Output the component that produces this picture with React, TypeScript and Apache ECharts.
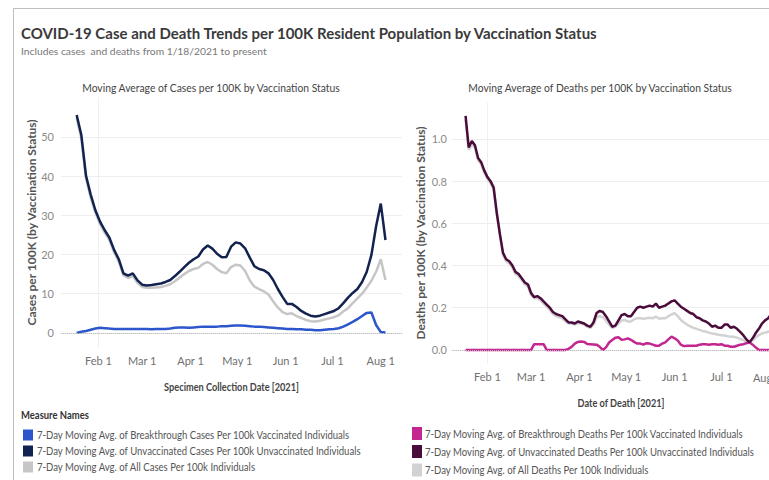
import React, { useEffect, useRef } from "react";
import * as echarts from "echarts";

// ---------- DATA ----------
const FONT = "Lato, 'Liberation Sans', sans-serif";

// x positions are days counted from Feb 1, 2021
const TICK_DAYS = [0, 28, 59, 89, 120, 150, 181];
const TICK_LABELS = ["Feb 1", "Mar 1", "Apr 1", "May 1", "Jun 1", "Jul 1", "Aug 1"];

// Cases: from Jan 18, 2021 every 3 days
const CASE_START_OFFSET = -14;
const CASE_STEP = 3;
const breakthroughCases = [
  0.0, 0.3, 0.5, 0.8, 1.1, 1.3, 1.2, 1.1, 1.0, 1.0,
  1.0, 1.0, 1.0, 1.0, 1.0, 1.0, 0.9, 1.0, 1.0, 1.0,
  1.1, 1.3, 1.4, 1.4, 1.3, 1.4, 1.5, 1.6, 1.6, 1.6,
  1.6, 1.7, 1.7, 1.8, 1.9, 1.9, 1.8, 1.7, 1.6, 1.6,
  1.5, 1.4, 1.3, 1.2, 1.1, 1.0, 1.0, 0.9, 0.9, 0.8,
  0.8, 0.7, 0.7, 0.8, 0.9, 1.0, 1.2, 1.6, 2.2, 2.8,
  3.5, 4.3, 5.1, 5.2, 2.0, 0.2, 0.1,
];
const unvaxCases = [
  55.6, 50.5, 40.1, 35.3, 31.3, 28.4, 26.2, 24.3, 21.2, 18.8,
  15.2, 14.6, 15.2, 13.4, 12.3, 12.1, 12.2, 12.4, 12.6, 13.0,
  13.5, 14.5, 15.6, 16.8, 17.9, 18.8, 19.5, 21.3, 22.3, 21.5,
  20.2, 19.3, 19.4, 22.0, 23.1, 22.8, 21.6, 19.2, 17.0, 16.3,
  16.0, 15.2, 13.5, 11.2, 9.2, 7.4, 7.4, 6.6, 5.6, 4.9,
  4.4, 4.2, 4.4, 4.8, 5.2, 5.6, 6.3, 7.6, 9.0, 10.2,
  11.2, 13.0, 15.6, 19.9, 27.2, 33.0, 23.7,
];
const allCases = [
  54.8, 49.6, 39.4, 34.6, 30.7, 27.8, 25.6, 23.7, 20.6, 18.2,
  14.7, 14.0, 14.5, 12.8, 11.7, 11.5, 11.5, 11.6, 11.7, 12.0,
  12.4, 13.2, 14.1, 15.0, 15.8, 16.3, 16.6, 17.6, 18.1, 17.4,
  16.3, 15.5, 15.2, 16.8, 17.4, 17.2, 15.8, 13.4, 11.8, 11.2,
  10.6, 9.8, 8.0, 6.5, 5.3, 4.8, 5.0, 4.3, 3.8, 3.3,
  3.0, 2.9, 3.1, 3.4, 3.7, 4.0, 4.5, 5.5, 6.3, 7.6,
  8.8, 10.0, 11.6, 13.3, 15.6, 18.8, 13.5,
];

// Deaths: from Jan 18, 2021 every 2 days
const DEATH_START_OFFSET = -14;
const DEATH_STEP = 2;
const breakthroughDeaths = [
  0, 0, 0, 0, 0, 0, 0, 0, 0, 0,
  0, 0, 0, 0, 0, 0, 0, 0, 0, 0,
  0, 0, 0.027, 0.027, 0.027, 0.027, 0, 0, 0, 0,
  0, 0, 0, 0.005, 0.015, 0.03, 0.038, 0.04, 0.038, 0.028,
  0.027, 0.026, 0.025, 0.015, 0, 0.012, 0.035, 0.047, 0.058, 0.06,
  0.048, 0.05, 0.055, 0.048, 0.038, 0.03, 0.03, 0.025, 0.032, 0.03,
  0.025, 0.02, 0.02, 0.03, 0.036, 0.05, 0.063, 0.055, 0.045, 0.025,
  0.018, 0.02, 0.02, 0.02, 0.02, 0.025, 0.027, 0.027, 0.025, 0.027,
  0.027, 0.025, 0.027, 0.02, 0.02, 0.015, 0.015, 0.02, 0.025, 0.027,
  0.032, 0.036, 0.025, 0.012, 0, 0, 0, 0, 0, 0,
];
const unvaxDeaths = [
  1.11, 0.96, 0.99, 0.97, 0.91, 0.89, 0.85, 0.82, 0.8, 0.77,
  0.65, 0.55, 0.46, 0.43, 0.42, 0.4, 0.37, 0.36, 0.34, 0.32,
  0.31, 0.27, 0.25, 0.255, 0.245, 0.23, 0.215, 0.2, 0.18, 0.17,
  0.165, 0.16, 0.145, 0.13, 0.13, 0.125, 0.135, 0.13, 0.125, 0.115,
  0.11, 0.13, 0.175, 0.185, 0.18, 0.16, 0.135, 0.11, 0.115, 0.14,
  0.165, 0.17, 0.16, 0.16, 0.18, 0.2, 0.205, 0.2, 0.205, 0.21,
  0.205, 0.22, 0.2, 0.205, 0.21, 0.22, 0.23, 0.235, 0.22, 0.205,
  0.195, 0.185, 0.175, 0.17, 0.155, 0.15, 0.14, 0.135, 0.125, 0.11,
  0.115, 0.105, 0.105, 0.12, 0.12, 0.105, 0.11, 0.1, 0.085, 0.07,
  0.05, 0.036, 0.055, 0.08, 0.1, 0.125, 0.14, 0.15, 0.17, 0.18,
];
const allDeaths = [
  1.09, 0.95, 0.97, 0.96, 0.9, 0.88, 0.84, 0.81, 0.79, 0.76,
  0.64, 0.54, 0.45, 0.42, 0.41, 0.39, 0.36, 0.35, 0.33, 0.31,
  0.3, 0.26, 0.245, 0.245, 0.235, 0.22, 0.205, 0.19, 0.17, 0.16,
  0.155, 0.15, 0.135, 0.125, 0.125, 0.12, 0.128, 0.125, 0.12, 0.11,
  0.105, 0.12, 0.155, 0.16, 0.155, 0.14, 0.12, 0.105, 0.11, 0.125,
  0.14, 0.142, 0.135, 0.135, 0.145, 0.15, 0.15, 0.148, 0.15, 0.152,
  0.15, 0.158, 0.148, 0.15, 0.15, 0.16, 0.168, 0.174, 0.16, 0.142,
  0.13, 0.12, 0.112, 0.105, 0.1, 0.095, 0.09, 0.087, 0.082, 0.078,
  0.075, 0.072, 0.07, 0.068, 0.065, 0.063, 0.062, 0.058, 0.052, 0.047,
  0.04, 0.036, 0.045, 0.06, 0.07, 0.078, 0.082, 0.086, 0.09, 0.095,
];

const caseYTicks = [0, 10, 20, 30, 40, 50];
const deathYTicks = [0, 0.2, 0.4, 0.6, 0.8, 1.0];

const SERIES_NAMES = {
  bCases: "7-Day Moving Avg. of Breakthrough Cases Per 100k Vaccinated Individuals",
  uCases: "7-Day Moving Avg. of Unvaccinated Cases Per 100k Unvaccinated Individuals",
  aCases: "7-Day Moving Avg. of All Cases Per 100k Individuals",
  bDeaths: "7-Day Moving Avg. of Breakthrough Deaths Per 100k Vaccinated Individuals",
  uDeaths: "7-Day Moving Avg. of Unvaccinated Deaths Per 100k Unvaccinated Individuals",
  aDeaths: "7-Day Moving Avg. of All Deaths Per 100k Individuals",
};

const COLORS = {
  bCases: "#2c56cc",
  uCases: "#13234f",
  aCases: "#c6c6c6",
  bDeaths: "#c3268f",
  uDeaths: "#4a0c3b",
  aDeaths: "#d2d2d2",
};

const CASE_LEGEND = ["bCases", "uCases", "aCases"];
const DEATH_LEGEND = ["bDeaths", "uDeaths", "aDeaths"];

// ---------- HELPERS ----------
const toSeries = (vals: number[], start: number, step: number) =>
  vals.map((v, i) => [start + i * step, v]);
const fmtDay = (v: number) => {
  const i = TICK_DAYS.indexOf(Math.round(v));
  return i >= 0 ? TICK_LABELS[i] : "";
};

export default function App() {
  const ref = useRef<HTMLDivElement>(null);
  useEffect(() => {
    if (!ref.current) return;
    const chart = echarts.init(ref.current, undefined, { renderer: "svg" });

    const xAxisBase = (gridIndex: number, min: number, max: number) => ({
      type: "value",
      gridIndex,
      min,
      max,
      axisLine: { show: true, lineStyle: { color: "#e3e3e3" } },
      axisTick: { show: false, customValues: TICK_DAYS },
      splitLine: { show: false },
      axisLabel: {
        customValues: TICK_DAYS,
        formatter: fmtDay,
        color: "#707070",
        fontSize: 11,
        margin: 8,
        fontFamily: FONT,
      },
    });

    const yAxisBase = (name: string, gridIndex: number, ticks: number[], min: number, max: number, nameGap: number, fmt: (v: number) => string, margin: number) => ({
      type: "value",
      gridIndex,
      min,
      max,
      name,
      nameLocation: "middle",
      nameGap,
      nameTextStyle: { fontSize: 12, color: "#555", fontWeight: "bold", fontFamily: FONT },
      axisLine: { show: true, lineStyle: { color: "#f0f0f0" } },
      axisTick: { show: false, customValues: ticks },
      splitLine: { show: true, lineStyle: { color: "#eeeeee", width: 1 } },
      axisLabel: { customValues: ticks, formatter: fmt, color: "#8a8a8a", fontSize: 11, margin, fontFamily: FONT },
    });

    const line = (name: string, color: string, data: any[], idx: number, z: number, zero?: boolean) => ({
      type: "line",
      name,
      xAxisIndex: idx,
      yAxisIndex: idx,
      data,
      showSymbol: false,
      symbol: "none",
      z,
      lineStyle: { color, width: 2.5 },
      itemStyle: { color },
      markLine: zero
        ? {
            silent: true,
            symbol: "none",
            label: { show: false },
            lineStyle: { color: "#bdbdbd", type: "dotted", width: 1 },
            data: [{ yAxis: 0 }],
          }
        : undefined,
    });

    const gText = (text: string, x: number, y: number, fontSize: number, fill: string, align = "left", weight: any = "normal", scaleX = 1) => ({
      type: "text",
      x,
      y,
      scaleX,
      silent: true,
      style: { text, fontSize, fill, fontFamily: FONT, fontWeight: weight, textAlign: align, textVerticalAlign: "middle" },
    });

    const legendItems = (keys: string[], iconX: number, textX: number, ys: number[], iconH: number) =>
      keys.flatMap((k, i) => [
        {
          type: "rect",
          silent: true,
          shape: { x: iconX, y: ys[i] - iconH / 2, width: 10, height: iconH },
          style: { fill: (COLORS as any)[k] },
        },
        gText((SERIES_NAMES as any)[k], textX, ys[i], 11, "#555555", "left", "normal", 0.87),
      ]);

    const option: any = {
      animation: false,
      backgroundColor: "#ffffff",
      textStyle: { fontFamily: FONT },
      grid: [
        { left: 61, top: 97.8, width: 341, height: 249.2, containLabel: false },
        { left: 452, top: 103.1, right: 0, height: 259.9, containLabel: false },
      ],
      xAxis: [xAxisBase(0, -24.04, 194.6), xAxisBase(1, -22.7, 180.5)],
      yAxis: [
        yAxisBase("Cases per 100K (by Vaccination Status)", 0, caseYTicks, -3.6, 60, 24, (v: number) => String(v), 7),
        yAxisBase("Deaths per 100K (by Vaccination Status)", 1, deathYTicks, -0.062, 1.17, 26, (v: number) => v.toFixed(1), 5),
      ],
      graphic: [
        {
          type: "rect",
          silent: true,
          shape: { x: 13.5, y: 8.5, width: 800, height: 600 },
          style: { fill: "none", stroke: "#bdbdbd", lineWidth: 1 },
        },
        gText("COVID-19 Case and Death Trends per 100K Resident Population by Vaccination Status", 21, 33, 15, "#3a3a3a", "left", "bold"),
        gText("Includes cases  and deaths from 1/18/2021 to present", 21, 51, 10.3, "#777777"),
        gText("Moving Average of Cases per 100K by Vaccination Status", 211, 87, 11, "#444444", "center", "normal", 0.94),
        gText("Moving Average of Deaths per 100K by Vaccination Status", 600, 87, 11, "#444444", "center", "normal", 0.94),
        gText("Specimen Collection Date [2021]", 231.5, 387, 11.5, "#444444", "center", "bold", 0.8),
        gText("Date of Death [2021]", 621, 403, 11.5, "#444444", "center", "bold", 0.8),
        gText("Aug 1", 753, 377, 11, "#707070", "left"),
        gText("Measure Names", 21, 415, 11, "#333333", "left", "bold", 0.86),
        ...legendItems(CASE_LEGEND, 23, 37, [435, 451, 467], 11),
        ...legendItems(DEATH_LEGEND, 412, 425, [433.5, 451.5, 470], 13),
      ],
      series: [
        line(SERIES_NAMES.aCases, COLORS.aCases, toSeries(allCases, CASE_START_OFFSET, CASE_STEP), 0, 2, true),
        line(SERIES_NAMES.bCases, COLORS.bCases, toSeries(breakthroughCases, CASE_START_OFFSET, CASE_STEP), 0, 3),
        line(SERIES_NAMES.uCases, COLORS.uCases, toSeries(unvaxCases, CASE_START_OFFSET, CASE_STEP), 0, 4),
        line(SERIES_NAMES.aDeaths, COLORS.aDeaths, toSeries(allDeaths, DEATH_START_OFFSET, DEATH_STEP), 1, 2, true),
        line(SERIES_NAMES.bDeaths, COLORS.bDeaths, toSeries(breakthroughDeaths, DEATH_START_OFFSET, DEATH_STEP), 1, 3),
        line(SERIES_NAMES.uDeaths, COLORS.uDeaths, toSeries(unvaxDeaths, DEATH_START_OFFSET, DEATH_STEP), 1, 4),
      ],
    };
    chart.setOption(option);
    return () => chart.dispose();
  }, []);

  return (
    <div
      ref={ref}
      style={{ position: "fixed", left: 0, top: 0, width: 769, height: 480, background: "#fff" }}
    />
  );
}
